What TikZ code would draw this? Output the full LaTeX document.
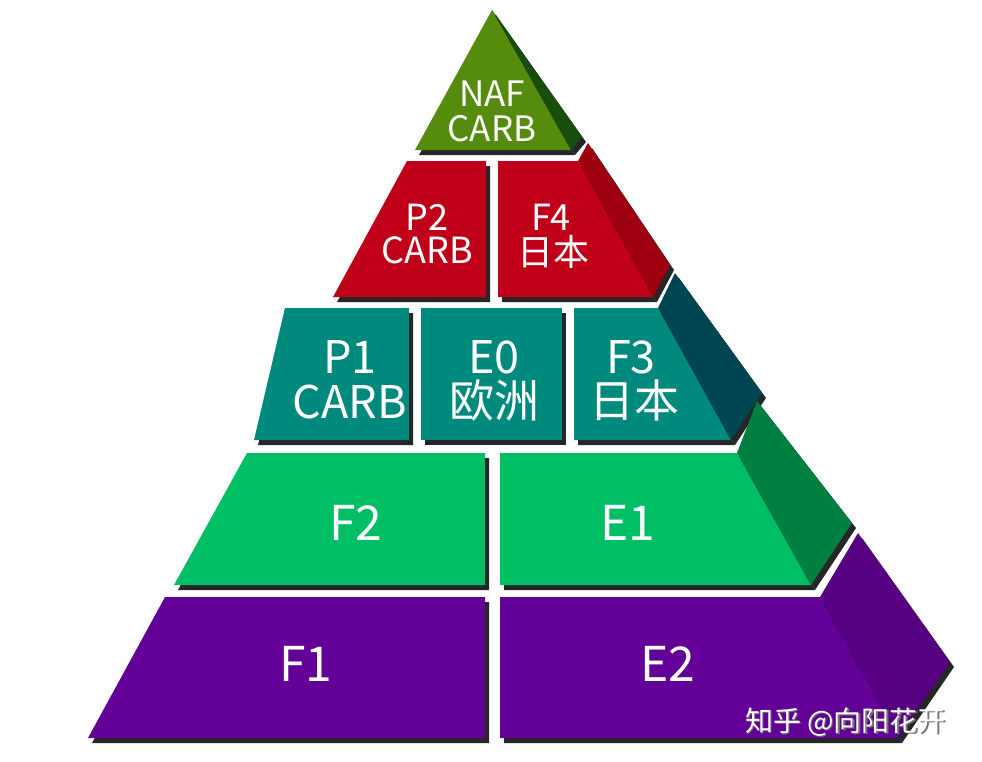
\documentclass[tikz,border=0pt]{standalone}
\usepackage{fontspec}
\setmainfont{Noto Sans CJK SC}
\usetikzlibrary{shadows}

\definecolor{nafFront}{RGB}{86,140,14}
\definecolor{nafSide}{RGB}{24,78,12}
\definecolor{redFront}{RGB}{192,0,24}
\definecolor{redSide}{RGB}{158,0,16}
\definecolor{tealFront}{RGB}{0,138,125}
\definecolor{tealSide}{RGB}{0,70,82}
\definecolor{greenFront}{RGB}{0,190,100}
\definecolor{greenSide}{RGB}{0,128,64}
\definecolor{purpleFront}{RGB}{99,0,152}
\definecolor{purpleSide}{RGB}{86,0,130}

\tikzset{
  slab/.style={fill=#1, drop shadow={shadow xshift=4pt, shadow yshift=-5pt, opacity=1, fill=black!85}},
  lbl/.style={text=white, anchor=base, inner sep=0pt, text height=0.7em, text depth=0pt, font=\fontsize{#1}{#1}\selectfont},
}

\begin{document}
\begin{tikzpicture}[x=1pt, y=-1pt]
    \useasboundingbox (0,0) rectangle (982,761);

    % Top tier
    \coordinate (apex) at (492,10);
    \fill[slab=nafFront] (apex) -- (415,150) -- (571,150) -- cycle;
    \fill[slab=nafSide] (apex) -- (582,137) -- (571,150) -- cycle;
    \node[lbl=35] (naf) at (492,106) {NAF};
    \node[lbl=35] (nafcarb) at (492,141) {CARB};

    % Second tier
    \fill[slab=redFront] (407,161) -- (486,161) -- (486,297) -- (333,297) -- cycle;
    \fill[slab=redFront] (498,161) -- (578,161) -- (653,297) -- (498,297) -- cycle;
    \fill[slab=redSide] (578,161) -- (588,143) -- (670,265) -- (653,297) -- cycle;
    \node[lbl=36] (ptwo) at (427,230) {P2};
    \node[lbl=36] (ptwocarb) at (427,263) {CARB};
    \node[lbl=36] (ffour) at (551,230) {F4};
    \node[lbl=36] (ffourjp) at (553,265) {日本};

    % Third tier
    \fill[slab=tealFront] (285,308) -- (409,308) -- (409,440) -- (254,440) -- cycle;
    \fill[slab=tealFront] (421,308) -- (562,308) -- (562,440) -- (421,440) -- cycle;
    \fill[slab=tealFront] (574,308) -- (658,308) -- (731,440) -- (574,440) -- cycle;
    \fill[slab=tealSide] (658,308) -- (675,273) -- (762,393) -- (731,440) -- cycle;
    \node[lbl=45] (pone) at (350,373) {P1};
    \node[lbl=45] (ponecarb) at (350,418) {CARB};
    \node[lbl=45] (ezero) at (494,373) {E0};
    \node[lbl=45] (ezeroeu) at (494,417) {欧洲};
    \node[lbl=45] (fthree) at (631,373) {F3};
    \node[lbl=45] (fthreejp) at (634,417) {日本};

    % Fourth tier
    \fill[slab=greenFront] (247,453) -- (485,453) -- (485,585) -- (174,585) -- cycle;
    \fill[slab=greenFront] (500,453) -- (737,453) -- (811,585) -- (500,585) -- cycle;
    \fill[slab=greenSide] (737,453) -- (757,401) -- (852,523) -- (811,585) -- cycle;
    \node[lbl=48] (ftwo) at (356,540) {F2};
    \node[lbl=48] (eone) at (628,540) {E1};

    % Bottom tier
    \fill[slab=purpleFront] (165,597) -- (485,597) -- (485,738) -- (88,738) -- cycle;
    \fill[slab=purpleFront] (500,597) -- (820,597) -- (898,738) -- (500,738) -- cycle;
    \fill[slab=purpleSide] (820,597) -- (858,533) -- (950,662) -- (898,738) -- cycle;
    \node[lbl=48] (fone) at (306,681) {F1};
    \node[lbl=48] (etwo) at (668,681) {E2};

    % Watermark
    \node[anchor=base west, inner sep=0pt, text=black!55, font=\fontsize{28}{28}\selectfont] (wmshade) at (746.5,732.5) {知乎 @向阳花开};
    \node[anchor=base west, inner sep=0pt, text=white, font=\fontsize{28}{28}\selectfont] (watermark) at (745,731) {知乎 @向阳花开};

\end{tikzpicture}
\end{document}
